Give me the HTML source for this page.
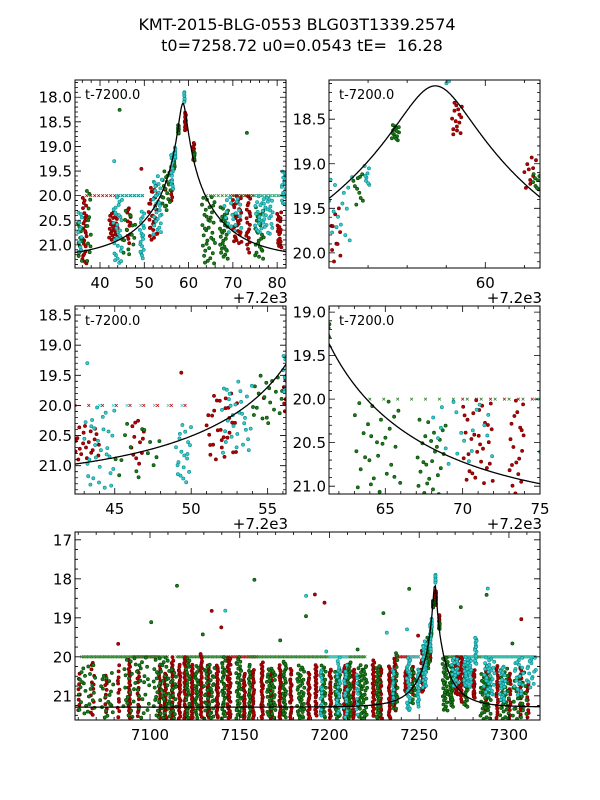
<!DOCTYPE html>
<html><head><meta charset="utf-8"><style>
body{margin:0;background:#fff;}
svg{display:block;font-family:"DejaVu Sans","Liberation Sans",sans-serif;}
</style></head><body>
<svg id="fig" width="600" height="800" viewBox="0 0 600 800" xmlns="http://www.w3.org/2000/svg">
<rect width="600" height="800" fill="#fff"/>
<text x="297" y="30" font-size="16" text-anchor="middle">KMT-2015-BLG-0553 BLG03T1339.2574</text>
<text x="302" y="51" font-size="16" text-anchor="middle" xml:space="preserve">t0=7258.72 u0=0.0543 tE=  16.28</text>
</svg>
<script>
// model parameters
const modelT0 = 58.72, modelU0 = 0.0543, modelTE = 16.28, modelBase = 21.29;
// clusters per telescope: [tStart, tEnd, magBright, magFaint, count], t = HJD-7200
const redClusters = [[-140,-139,20.3,21.5,8],[-133,-131,20.1,21.6,12],[-125,-124,20.4,21.5,10],[-118,-117,20.2,21.6,12],[-112,-111,20.0,21.6,25],[-107,-106,20.3,21.6,15],[-95,-94,20.2,21.6,20],[-92,-91,20.4,21.6,25],[-88,-87,20.0,21.6,25],[-84,-83,20.2,21.6,30],[-81,-80,20.0,21.6,30],[-77,-76,20.2,21.6,30],[-72,-71,19.9,21.6,30],[-68,-67,20.2,21.6,30],[-63,-62,20.2,21.6,30],[-57,-55,20.0,21.6,40],[-48,-47,20.4,21.6,25],[-43,-42,20.3,21.6,25],[-38,-37,20.1,21.6,30],[-33,-32,20.4,21.6,25],[-28,-27,20.2,21.6,30],[-22,-21,20.3,21.6,25],[-12,-11,20.4,21.6,25],[-8,-7,20.2,21.6,25],[0,1,20.3,21.6,25],[8,9,20.2,21.6,25],[13,14,20.3,21.6,25],[24,25,20.0,21.6,25],[28,29,20.2,21.6,25],[33,34,20.2,21.6,30],[36,37,20.0,21.4,25],[42,44,20.3,20.9,25],[46,47,20.2,21.0,12],[51,53,19.8,20.9,30],[56.05,56.3,19.5,20.1,10],[59.15,59.4,18.3,18.7,15],[61,61.3,18.9,19.3,10],[70,72,20.0,21.0,30],[73,74,20.0,21.2,20],[80,81,20.3,21.1,20],[87,88,20.2,21.4,20],[93,94,20.2,21.6,20],[100,101,20.4,21.6,15],[106,107,20.2,21.6,15],[110,111,20.6,21.6,10],[-120,110,18.0,19.9,8]];
const greenClusters = [[-140,-130,20.2,21.5,25],[-128,-120,20.4,21.6,20],[-115,-100,20.0,21.6,40],[-98,-90,20.0,21.6,40],[-90,-85,20.3,21.6,25],[-80,-78,20.0,21.6,25],[-75,-73,20.2,21.6,25],[-70,-64,20.2,21.6,40],[-60,-58,20.0,21.6,30],[-52,-49,20.0,21.6,40],[-45,-44,20.2,21.6,25],[-35,-30,20.3,21.6,40],[-26,-24,20.1,21.6,30],[-18,-14,20.2,21.6,40],[-5,-2,20.2,21.6,30],[3,6,20.3,21.6,40],[10,12,20.1,21.6,40],[16,21,20.2,21.6,50],[26,28,20.2,21.6,30],[35,36,20.5,21.4,12],[37,38,19.8,21.4,12],[45,48,20.3,21.2,15],[54,56,19.5,20.3,20],[56.6,56.9,19.1,19.5,10],[57.6,57.8,18.55,18.75,15],[61.2,61.4,19.1,19.3,8],[63,66,20.0,21.4,35],[67,69,20.2,21.3,30],[75,77,20.2,21.3,25],[84,90,20.4,21.6,40],[95,100,20.3,21.6,35],[102,110,20.4,21.6,30],[-120,110,17.8,19.9,12]];
const cyanClusters = [[-5,-4,20.3,21.6,15],[4,6,20.0,21.5,20],[8,10,20.2,21.6,15],[15,16,20.4,21.6,10],[35,36,20.3,21.2,12],[43,45,20.0,21.4,30],[49,50,20.3,21.3,20],[52,54,19.6,20.8,30],[56,56.6,19.1,19.9,15],[56.9,57.05,19.0,19.25,8],[59,59.1,17.9,18.1,8],[68,72,20.0,20.8,20],[75,79,20.0,20.8,40],[81,82,19.5,20.2,15],[86,92,20.0,21.0,30],[95,98,20.2,21.2,20],[103,108,20.0,21.0,20],[110,115,20.0,20.8,15],[-70,110,18.2,19.9,6]];
// rows of limit markers at mag 20.0: [tStart, tEnd]
const redLimits = [[-110,-95],[-55,-40],[37,50],[70,75]];
const greenLimits = [[-138,-90],[-85,-55],[-45,20],[64,115]];
const cyanLimits = [[0,10],[44,50],[75,83],[85,115]];
const limitMag = 20.0;

const panels = [
 {name:'panel-peak-wide',x:75,y:80,w:211,h:188,t0:34.35,t1:82.0,mT:17.65,mB:21.47,xt:[40,50,60,70,80],xm:2,yt:[18,18.5,19,19.5,20,20.5,21],ym:0.1,fmt:1,off:true,lab:true},
 {name:'panel-peak-zoom',x:329,y:80,w:211,h:188,t0:56.0,t1:61.4,mT:18.06,mB:20.17,xt:[60],xm:1,yt:[18.5,19,19.5,20],ym:0.1,fmt:1,off:true,lab:true},
 {name:'panel-rise',x:75,y:306,w:211,h:188,t0:42.4,t1:56.2,mT:18.35,mB:21.47,xt:[45,50,55],xm:1,yt:[18.5,19,19.5,20,20.5,21],ym:0.1,fmt:1,off:true,lab:true},
 {name:'panel-decline',x:329,y:306,w:211,h:188,t0:61.36,t1:75.0,mT:18.93,mB:21.09,xt:[65,70,75],xm:1,yt:[19,19.5,20,20.5,21],ym:0.1,fmt:1,off:true,lab:true},
 {name:'panel-full-season',x:75,y:532,w:465,h:188,t0:-141.8,t1:117.3,mT:16.8,mB:21.62,xt:[-100,-50,0,50,100],xm:10,yt:[17,18,19,20,21],ym:0.25,fmt:0,off:false,lab:false,add:7200}
];
const NS='http://www.w3.org/2000/svg';
const svg=document.getElementById('fig');
function mk(tag,attrs,parent){const e=document.createElementNS(NS,tag);for(const k in attrs)e.setAttribute(k,attrs[k]);(parent||svg).appendChild(e);return e;}
function modelMag(t){const tau=(t-modelT0)/modelTE;const u=Math.sqrt(modelU0*modelU0+tau*tau);const A=(u*u+2)/(u*Math.sqrt(u*u+4));return modelBase-2.5*Math.log10(A);}
function halton(i,b){let f=1,r=0;while(i>0){f/=b;r+=f*(i%b);i=Math.floor(i/b);}return r;}
const styles={red:['#b30000','#6e0000'],green:['#1d7a1d','#004400'],cyan:['#3cc8c8','#008c8c']};

panels.forEach((p,pi)=>{
 const X=t=>p.x+(t-p.t0)/(p.t1-p.t0)*p.w;
 const Y=m=>p.y+(m-p.mT)/(p.mB-p.mT)*p.h;
 const g=mk('g',{});
 
 
 const cp=mk('clipPath',{id:'clip'+pi},g);
 mk('rect',{x:p.x,y:p.y,width:p.w,height:p.h},cp);
 const dg=mk('g',{'clip-path':'url(#clip'+pi+')'},g);
 
 
 [['red',redLimits],['green',greenLimits],['cyan',cyanLimits]].forEach(([c,L])=>{
  L.forEach(r=>{for(let t=r[0];t<=r[1];t+=0.9){const px=X(t),py=Y(limitMag);if(px<p.x-3||px>p.x+p.w+3)continue;
   const e=mk('path',{d:`M${px-1.4},${py-1.4}L${px+1.4},${py+1.4}M${px-1.4},${py+1.4}L${px+1.4},${py-1.4}`,stroke:styles[c][0],'stroke-width':0.7,fill:'none'},dg);
   
   }});
 });
 [['red',redClusters],['green',greenClusters],['cyan',cyanClusters]].forEach(([c,C],ci)=>{
  C.forEach((cl,k)=>{for(let i=0;i<cl[4];i++){
   const idx=i+1+k*7+ci*3;
   const t=cl[0]+halton(idx,2)*(cl[1]-cl[0]);
   const m=cl[2]+halton(idx,3)*(cl[3]-cl[2]);
   const px=X(t),py=Y(m);
   if(px<p.x-3||px>p.x+p.w+3||py<p.y-3||py>p.y+p.h+3)continue;
   const e=mk('circle',{cx:px.toFixed(1),cy:py.toFixed(1),r:1.6,fill:styles[c][0],stroke:styles[c][1],'stroke-width':0.6},dg);
   
   }});
 });
 let d='';for(let i=0;i<=400;i++){const t=p.t0+(p.t1-p.t0)*i/400;d+=(i?'L':'M')+X(t).toFixed(1)+','+Y(modelMag(t)).toFixed(1);}
 const mc=mk('path',{d:d,fill:'none',stroke:'#000','stroke-width':1.3},dg);
 
 
 const fr=mk('rect',{x:p.x,y:p.y,width:p.w,height:p.h,fill:'none',stroke:'#000','stroke-width':1},g);
 
 
 const add=p.add||0;
 for(let t=Math.ceil(p.t0/p.xm)*p.xm;t<=p.t1+1e-9;t+=p.xm){const px=X(t);const major=p.xt.some(v=>Math.abs(v-t)<1e-6);const L=major?6:3;
  mk('path',{d:`M${px},${p.y+p.h}v${-L}M${px},${p.y}v${L}`,stroke:'#000','stroke-width':0.8},g);}
 p.xt.forEach(t=>{const e=mk('text',{x:X(t),y:p.y+p.h+20,'font-size':15,'text-anchor':'middle'},g);e.textContent=String(t+add);
  });
 for(let m=Math.ceil(p.mT/p.ym-1e-9)*p.ym;m<=p.mB+1e-9;m+=p.ym){const py=Y(m);const major=p.yt.some(v=>Math.abs(v-m)<1e-6);const L=major?6:3;
  mk('path',{d:`M${p.x},${py}h${L}M${p.x+p.w},${py}h${-L}`,stroke:'#000','stroke-width':0.8},g);}
 p.yt.forEach(m=>{const e=mk('text',{x:p.x-3,y:Y(m)+5.5,'font-size':15,'text-anchor':'end'},g);e.textContent=m.toFixed(p.fmt);
  });
 if(p.lab){const e=mk('text',{x:p.x+10,y:p.y+19,'font-size':13},g);e.textContent='t-7200.0';
  }
 if(p.off){const e=mk('text',{x:p.x+p.w+2,y:p.y+p.h+35,'font-size':15,'text-anchor':'end'},g);e.textContent='+7.2e3';
  }
});
</script>
</body></html>
